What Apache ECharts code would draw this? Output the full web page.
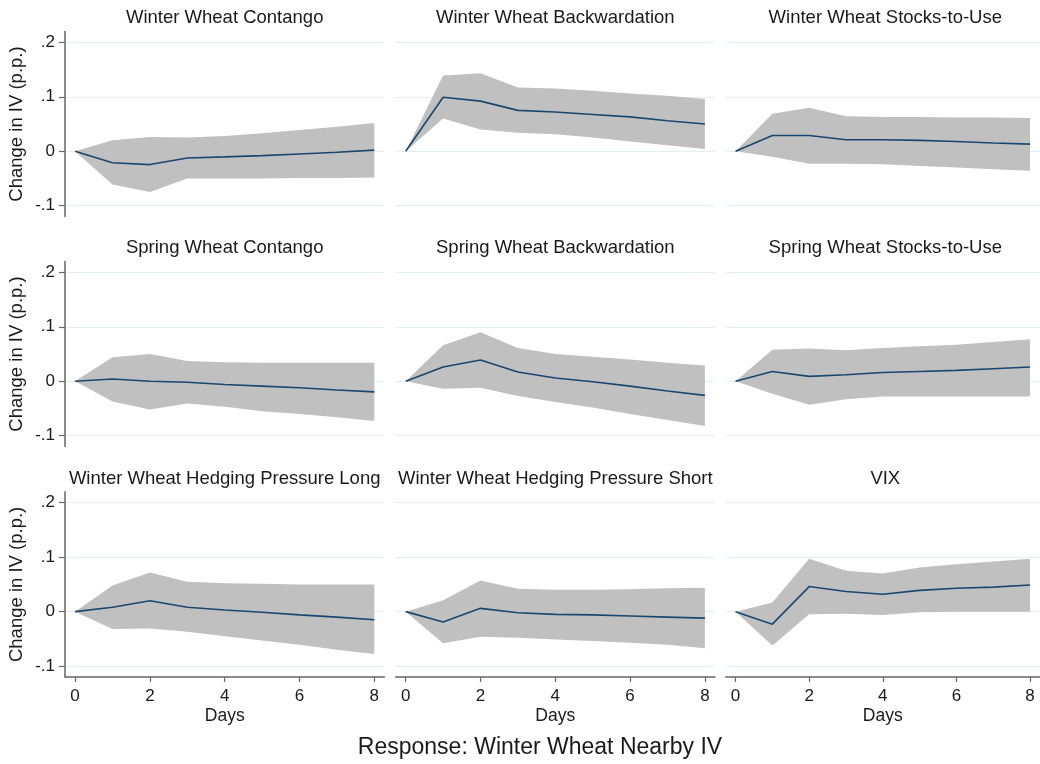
<!DOCTYPE html>
<html>
<head>
<meta charset="utf-8">
<script src="https://cdn.jsdelivr.net/npm/echarts@6/dist/echarts.min.js"></script>
<style>
html,body{margin:0;padding:0;background:#fff;}
#chart{width:1040px;height:764px;}
</style>
</head>
<body>
<div id="chart"></div>
<script>
// ---- data ----
const days = [0, 1, 2, 3, 4, 5, 6, 7, 8];
const panelTitles = [
  'Winter Wheat Contango', 'Winter Wheat Backwardation', 'Winter Wheat Stocks-to-Use',
  'Spring Wheat Contango', 'Spring Wheat Backwardation', 'Spring Wheat Stocks-to-Use',
  'Winter Wheat Hedging Pressure Long', 'Winter Wheat Hedging Pressure Short', 'VIX'
];
const yTickValues = [-0.1, 0, 0.1, 0.2];
const yTickLabels = ['-.1', '0', '.1', '.2'];
const xTickValues = [0, 2, 4, 6, 8];
const yAxisTitle = 'Change in IV (p.p.)';
const xAxisTitle = 'Days';
const chartTitle = 'Response: Winter Wheat Nearby IV';

const wwContangoIRF = [0, -0.021, -0.0245, -0.0123, -0.0104, -0.008, -0.005, -0.002, 0.002];
const wwContangoHi  = [0, 0.020, 0.026, 0.025, 0.028, 0.033, 0.039, 0.045, 0.052];
const wwContangoLo  = [0, -0.061, -0.075, -0.050, -0.050, -0.050, -0.049, -0.049, -0.048];

const wwBackIRF = [0, 0.099, 0.092, 0.075, 0.072, 0.0675, 0.063, 0.056, 0.050];
const wwBackHi  = [0, 0.139, 0.143, 0.117, 0.115, 0.111, 0.106, 0.102, 0.096];
const wwBackLo  = [0, 0.060, 0.040, 0.034, 0.031, 0.025, 0.018, 0.011, 0.004];

const wwStuIRF = [0, 0.029, 0.029, 0.021, 0.021, 0.020, 0.018, 0.015, 0.013];
const wwStuHi  = [0, 0.069, 0.080, 0.064, 0.063, 0.063, 0.062, 0.062, 0.061];
const wwStuLo  = [0, -0.010, -0.023, -0.023, -0.024, -0.027, -0.030, -0.033, -0.036];

const swContangoIRF = [0, 0.004, 0.0, -0.002, -0.006, -0.009, -0.012, -0.016, -0.0196];
const swContangoHi  = [0, 0.044, 0.050, 0.037, 0.035, 0.034, 0.034, 0.034, 0.034];
const swContangoLo  = [0, -0.037, -0.052, -0.041, -0.047, -0.055, -0.060, -0.066, -0.073];

const swBackIRF = [0, 0.026, 0.039, 0.017, 0.006, -0.001, -0.009, -0.018, -0.026];
const swBackHi  = [0, 0.066, 0.090, 0.061, 0.050, 0.045, 0.040, 0.034, 0.029];
const swBackLo  = [0, -0.014, -0.012, -0.027, -0.038, -0.048, -0.060, -0.071, -0.082];

const swStuIRF = [0, 0.018, 0.009, 0.012, 0.016, 0.018, 0.020, 0.023, 0.026];
const swStuHi  = [0, 0.058, 0.060, 0.057, 0.061, 0.064, 0.067, 0.072, 0.077];
const swStuLo  = [0, -0.023, -0.043, -0.033, -0.028, -0.028, -0.028, -0.028, -0.028];

const hpLongIRF = [0, 0.008, 0.020, 0.008, 0.003, -0.001, -0.006, -0.010, -0.015];
const hpLongHi  = [0, 0.048, 0.072, 0.055, 0.052, 0.051, 0.050, 0.050, 0.050];
const hpLongLo  = [0, -0.032, -0.031, -0.037, -0.045, -0.053, -0.061, -0.070, -0.078];

const hpShortIRF = [0, -0.019, 0.006, -0.002, -0.005, -0.006, -0.008, -0.010, -0.012];
const hpShortHi  = [0, 0.021, 0.057, 0.042, 0.040, 0.040, 0.041, 0.043, 0.044];
const hpShortLo  = [0, -0.058, -0.046, -0.048, -0.051, -0.054, -0.057, -0.061, -0.067];

const vixIRF = [0, -0.023, 0.046, 0.037, 0.032, 0.039, 0.043, 0.045, 0.049];
const vixHi  = [0, 0.017, 0.097, 0.075, 0.070, 0.081, 0.087, 0.092, 0.097];
const vixLo  = [0, -0.062, -0.005, -0.004, -0.006, -0.001, 0.0, 0.0, 0.0];

// ---- build ----
const panels = [
  [wwContangoIRF, wwContangoLo, wwContangoHi],
  [wwBackIRF, wwBackLo, wwBackHi],
  [wwStuIRF, wwStuLo, wwStuHi],
  [swContangoIRF, swContangoLo, swContangoHi],
  [swBackIRF, swBackLo, swBackHi],
  [swStuIRF, swStuLo, swStuHi],
  [hpLongIRF, hpLongLo, hpLongHi],
  [hpShortIRF, hpShortLo, hpShortHi],
  [vixIRF, vixLo, vixHi]
];

const FONT = '"Liberation Sans", Arial, Helvetica, sans-serif';
const TXT = '#1a1a1a';
const AXIS = '#666666';
const GRIDC = '#e4eef0';
const BAND = '#c0c0c0';
const LINE = '#1a476f';

const colLeft = [65, 395.6, 725.6];
const plotW = 319.4;
const rowTop = [31.4, 261.4, 491.8];
const plotH = 185.2;

const grids = [], xAxes = [], yAxes = [], series = [], graphics = [];

panels.forEach((p, i) => {
  const r = Math.floor(i / 3), c = i % 3;
  const [irf, lo, hi] = p;
  grids.push({ left: colLeft[c], top: rowTop[r], width: plotW, height: plotH, containLabel: false });
  const bottomRow = r === 2;
  xAxes.push({
    gridIndex: i, type: 'value', min: -0.27, max: 8.27,
    axisLine: { show: bottomRow, onZero: false, lineStyle: { color: AXIS, width: 1.5 } },
    axisTick: { show: bottomRow, customValues: xTickValues, length: 5, lineStyle: { color: AXIS, width: 1.2 } },
    axisLabel: { show: bottomRow, customValues: xTickValues, margin: 11, fontSize: 17, color: TXT, fontFamily: FONT },
    splitLine: { show: false },
    name: bottomRow ? xAxisTitle : '', nameLocation: 'middle', nameGap: 30,
    nameTextStyle: { fontSize: 17.5, color: TXT, fontFamily: FONT }
  });
  const leftCol = c === 0;
  yAxes.push({
    gridIndex: i, type: 'value', min: -0.12, max: 0.22,
    axisLine: { show: leftCol, onZero: false, lineStyle: { color: AXIS, width: 1.5 } },
    axisTick: { show: leftCol, customValues: yTickValues, length: 6, lineStyle: { color: AXIS, width: 1.2 } },
    axisLabel: {
      show: leftCol, customValues: yTickValues, margin: 10, fontSize: 17, color: TXT, fontFamily: FONT,
      formatter: v => {
        let best = 0;
        yTickValues.forEach((t, k) => { if (Math.abs(t - v) < Math.abs(yTickValues[best] - v)) best = k; });
        return yTickLabels[best];
      }
    },
    splitLine: { show: true, lineStyle: { color: GRIDC, width: 1 } },
    name: leftCol ? yAxisTitle : '', nameLocation: 'middle', nameGap: 39, nameRotate: 90,
    nameTextStyle: { fontSize: 18.5, color: TXT, fontFamily: FONT }
  });
  series.push({
    type: 'custom', xAxisIndex: i, yAxisIndex: i, z: 2, silent: true,
    data: days.map((d, k) => [d, lo[k], hi[k]]),
    encode: { x: 0, y: [1, 2] },
    renderItem: function (params, api) {
      if (params.dataIndex !== 0) return null;
      const pts = [];
      for (let k = 0; k < days.length; k++) pts.push(api.coord([days[k], hi[k]]));
      for (let k = days.length - 1; k >= 0; k--) pts.push(api.coord([days[k], lo[k]]));
      return { type: 'polygon', shape: { points: pts }, style: { fill: BAND, stroke: null } };
    }
  });
  series.push({
    type: 'line', xAxisIndex: i, yAxisIndex: i, z: 3, silent: true,
    data: days.map((d, k) => [d, irf[k]]),
    symbol: 'none', lineStyle: { color: LINE, width: 1.6 }
  });
  graphics.push({
    type: 'text', x: colLeft[c] + plotW / 2, y: [18.3, 248.3, 479.2][r],
    style: { text: panelTitles[i], fontSize: 18.5, fontFamily: FONT, fill: TXT,
             align: 'center', verticalAlign: 'middle', textAlign: 'center', textVerticalAlign: 'middle' }
  });
});

graphics.push({
  type: 'text', x: 540, y: 748,
  style: { text: chartTitle, fontSize: 23, fontFamily: FONT, fill: TXT,
           align: 'center', verticalAlign: 'middle', textAlign: 'center', textVerticalAlign: 'middle' }
});

const chart = echarts.init(document.getElementById('chart'), null, { renderer: 'canvas' });
chart.setOption({
  animation: false,
  backgroundColor: '#ffffff',
  grid: grids, xAxis: xAxes, yAxis: yAxes, series: series, graphic: graphics
});
</script>
</body>
</html>
